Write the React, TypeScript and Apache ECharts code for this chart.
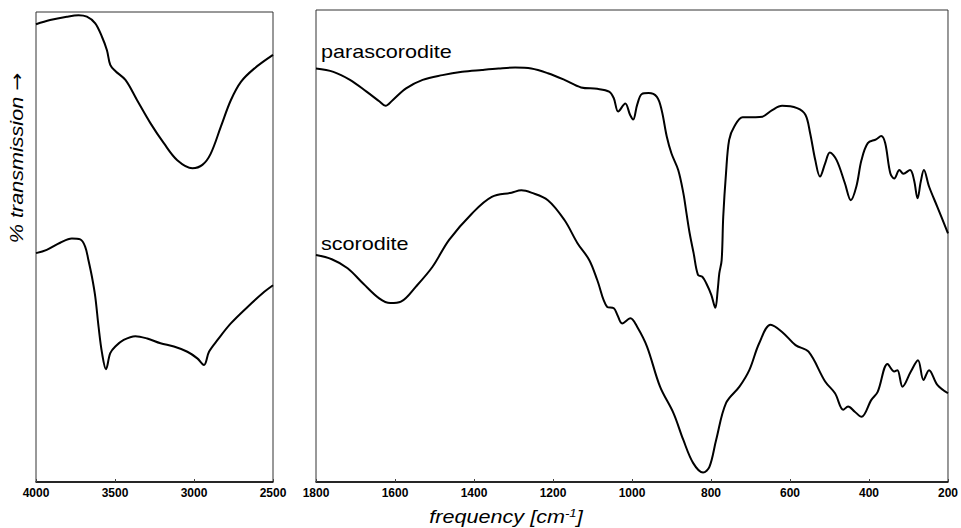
import React, { useEffect, useRef } from "react";
import * as echarts from "echarts";

// Left panel (OH stretching region), frequency in cm^-1, transmission in arbitrary units
const ohParaFreq = [4000, 3911, 3805, 3731, 3678, 3625, 3582, 3551, 3530, 3498, 3434, 3360, 3275, 3191, 3106, 3010, 2947, 2894, 2830, 2767, 2703, 2619, 2500];
const ohPara = [97.0, 97.9, 98.6, 98.9, 98.6, 97.2, 94.3, 91.5, 88.4, 87.1, 85.2, 80.9, 76.0, 71.8, 68.2, 66.5, 67.2, 69.6, 75.3, 80.9, 84.8, 87.6, 90.5];

const ohScorFreq = [4000, 3932, 3847, 3773, 3720, 3689, 3668, 3646, 3625, 3604, 3582, 3557, 3530, 3498, 3445, 3371, 3296, 3212, 3127, 3042, 2979, 2937, 2905, 2851, 2767, 2661, 2555, 2500];
const ohScor = [48.5, 49.2, 50.7, 51.6, 51.4, 49.9, 47.0, 43.5, 39.3, 32.9, 27.3, 23.9, 27.3, 28.7, 30.1, 30.9, 30.4, 29.4, 28.7, 27.6, 26.2, 24.8, 27.6, 30.1, 33.6, 37.1, 40.3, 41.7];

// Right panel (1800-200 cm^-1)
const fpParaFreq = [1800, 1756, 1714, 1672, 1639, 1624, 1606, 1572, 1530, 1480, 1430, 1380, 1338, 1296, 1255, 1213, 1171, 1129, 1088, 1058, 1046, 1035, 1017, 1005, 997, 987, 975, 958, 937, 925, 912, 900, 883, 870, 862, 854, 844, 833, 822, 812, 799, 789, 783, 779, 773, 769, 762, 754, 741, 720, 687, 670, 645, 620, 582, 561, 549, 536, 524, 511, 499, 482, 461, 446, 432, 419, 403, 382, 369, 359, 346, 336, 323, 313, 296, 286, 277, 269, 261, 248, 227, 200];
const fpPara = [87.6, 86.9, 85.2, 82.7, 80.6, 79.7, 80.9, 83.4, 85.2, 86.2, 86.9, 87.3, 87.6, 87.8, 87.6, 86.6, 85.2, 83.6, 83.3, 82.7, 81.3, 78.5, 80.2, 77.8, 76.8, 79.9, 82.2, 82.4, 81.6, 78.8, 73.2, 69.6, 66.1, 61.2, 56.9, 52.7, 48.5, 43.9, 43.5, 42.1, 39.6, 36.9, 40.7, 44.2, 47.0, 56.2, 65.4, 72.5, 75.3, 77.3, 77.3, 77.4, 78.8, 79.7, 79.2, 77.8, 73.9, 68.2, 64.7, 67.5, 69.8, 68.2, 63.3, 59.7, 62.6, 68.2, 71.8, 72.6, 73.3, 71.8, 65.4, 64.3, 66.1, 65.3, 66.1, 64.0, 60.1, 63.6, 66.1, 62.6, 58.3, 52.7];

const fpScorFreq = [1800, 1760, 1720, 1680, 1640, 1612, 1585, 1547, 1505, 1463, 1405, 1355, 1305, 1280, 1255, 1213, 1171, 1138, 1108, 1088, 1063, 1046, 1037, 1025, 1004, 987, 962, 929, 895, 870, 845, 820, 804, 787, 762, 728, 703, 678, 649, 620, 586, 553, 511, 486, 465, 453, 436, 419, 394, 378, 353, 336, 328, 315, 294, 276, 262, 248, 227, 200];
const fpScor = [48.1, 47.2, 45.3, 42.0, 38.9, 37.9, 38.2, 41.4, 45.6, 51.3, 56.9, 60.4, 61.3, 61.8, 61.3, 59.7, 55.5, 50.6, 47.0, 42.8, 37.1, 36.8, 35.4, 33.6, 34.7, 32.9, 28.7, 20.2, 14.6, 8.9, 4.0, 2.0, 3.2, 8.9, 16.7, 20.2, 23.7, 29.4, 33.3, 31.8, 29.0, 27.6, 21.3, 18.8, 15.3, 16.0, 14.9, 13.8, 17.4, 19.1, 25.0, 23.4, 23.7, 20.2, 23.4, 25.8, 21.6, 23.7, 20.6, 18.8];

const seriesNames = ["parascorodite", "scorodite"];
const axisTitle = "frequency [cm{sup|-1}]";
const yTitle = "% transmission {arr|\u2192}";

const FONT = "'Liberation Sans', Arial, Helvetica, sans-serif";

function zip(xs: number[], ys: number[]) {
  return xs.map((x, i) => [x, ys[i]]);
}

export default function App() {
  const ref = useRef<HTMLDivElement>(null);
  useEffect(() => {
    const chart = echarts.init(ref.current!, null, { renderer: "svg" });
    const xAxisCommon = {
      type: "value",
      inverse: true,
      axisLine: { show: true, lineStyle: { color: "#000", width: 1.5 } },
      axisTick: { show: true, inside: true, length: 3, lineStyle: { color: "#444", width: 1 } },
      axisLabel: {
        color: "#000", fontWeight: "bold", fontSize: 12, fontFamily: FONT, margin: 5,
        formatter: (v: number) => String(v),
      },
      splitLine: { show: false },
    };
    const lineCommon = {
      type: "line",
      showSymbol: false,
      smooth: 0.35,
      lineStyle: { color: "#000", width: 2 },
      silent: true,
    };
    chart.setOption({
      animation: false,
      backgroundColor: "#fff",
      grid: [
        { left: 36, top: 12, width: 237, height: 470, show: true, borderColor: "#333", borderWidth: 1 },
        { left: 316, top: 10, width: 638, height: 472, show: true, borderColor: "#333", borderWidth: 1 },
      ],
      xAxis: [
        { ...xAxisCommon, gridIndex: 0, min: 2500, max: 4000, interval: 500 },
        { ...xAxisCommon, gridIndex: 1, min: 200, max: 1800, interval: 200 },
      ],
      yAxis: [
        { type: "value", gridIndex: 0, min: 0, max: 99.6, show: false },
        { type: "value", gridIndex: 1, min: 0, max: 100, show: false },
      ],
      series: [
        { ...lineCommon, name: seriesNames[0], xAxisIndex: 0, yAxisIndex: 0, data: zip(ohParaFreq, ohPara) },
        { ...lineCommon, name: seriesNames[1], xAxisIndex: 0, yAxisIndex: 0, data: zip(ohScorFreq, ohScor) },
        { ...lineCommon, name: seriesNames[0], xAxisIndex: 1, yAxisIndex: 1, data: zip(fpParaFreq, fpPara) },
        { ...lineCommon, name: seriesNames[1], xAxisIndex: 1, yAxisIndex: 1, data: zip(fpScorFreq, fpScor) },
      ],
      graphic: [
        {
          type: "text", x: 321, y: 51.5, scaleX: 1.2,
          style: { text: seriesNames[0], fill: "#000", fontSize: 18, fontFamily: FONT, align: "left", verticalAlign: "middle" },
        },
        {
          type: "text", x: 321, y: 244, scaleX: 1.2,
          style: { text: seriesNames[1], fill: "#000", fontSize: 18, fontFamily: FONT, align: "left", verticalAlign: "middle" },
        },
        {
          type: "text", x: 506, y: 517, scaleX: 1.2,
          style: {
            text: axisTitle, fill: "#000", fontSize: 18, fontStyle: "italic", fontFamily: FONT,
            align: "center", verticalAlign: "middle",
            rich: { sup: { fontSize: 11, fontStyle: "italic", fontFamily: FONT, fill: "#000", verticalAlign: "top" } },
          },
        },
        {
          type: "text", x: 17, y: 158, scaleX: 1.2, rotation: Math.PI / 2,
          style: {
            text: yTitle, fill: "#000", fontSize: 18, fontStyle: "italic", fontFamily: FONT,
            align: "center", verticalAlign: "middle",
            rich: { arr: { fontSize: 18, fontFamily: "'DejaVu Sans', sans-serif", fill: "#000" } },
          },
        },
      ],
    });
    return () => chart.dispose();
  }, []);
  return (
    <div
      ref={ref}
      style={{ position: "fixed", left: 0, top: 0, width: 961, height: 528, background: "#fff" }}
    />
  );
}
